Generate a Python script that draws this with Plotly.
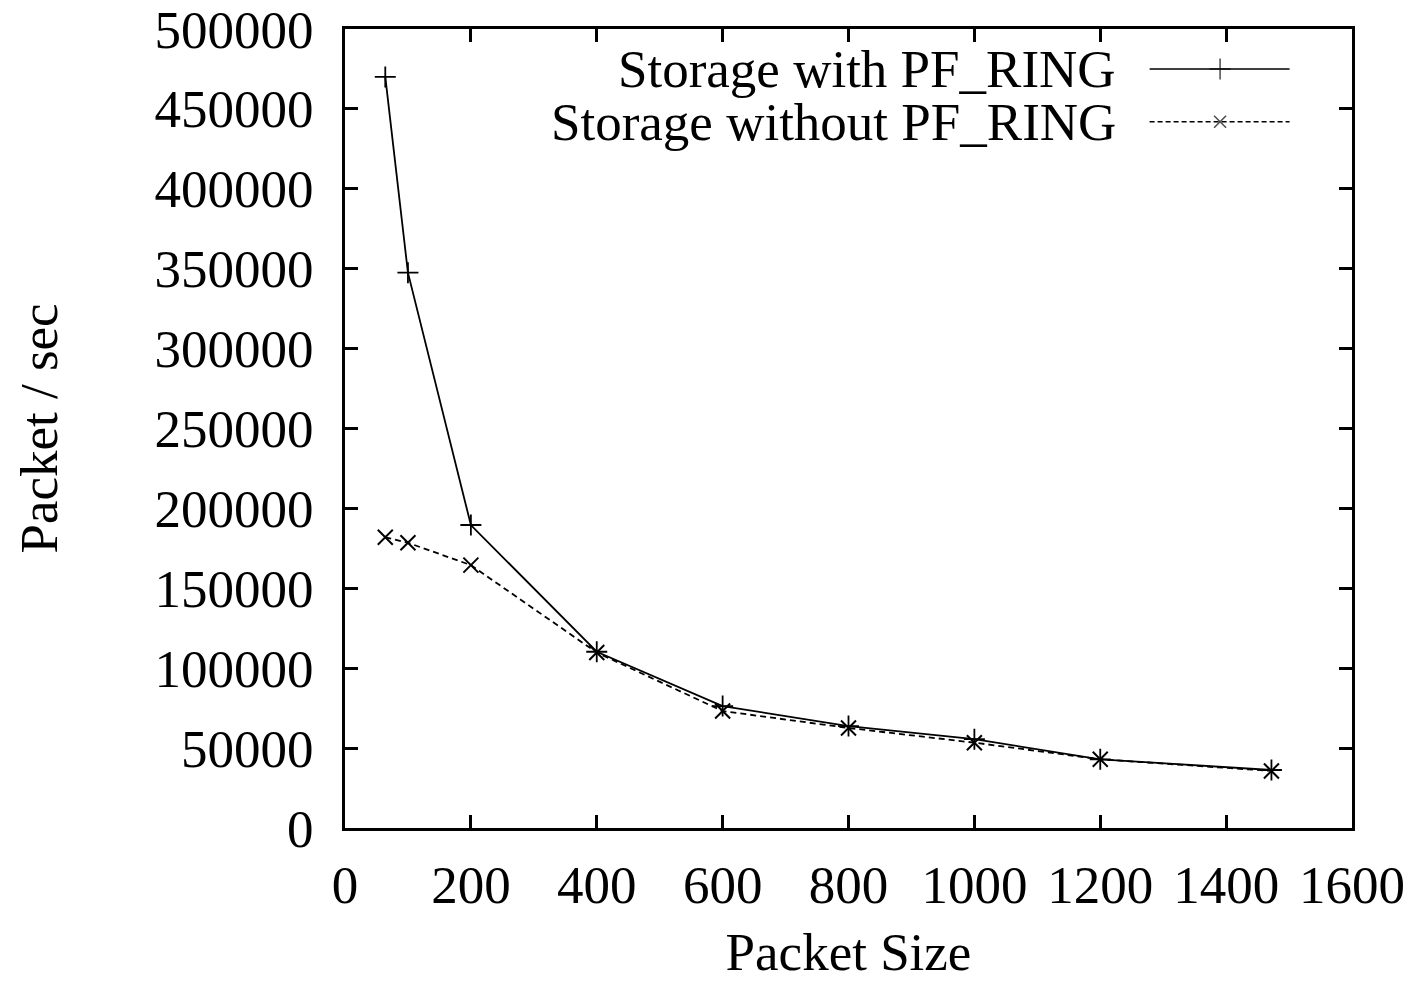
import plotly.graph_objects as go

# Packet sizes (bytes) and capture rates (packets/sec)
packet_size = [64, 100, 200, 400, 600, 800, 1000, 1200, 1472]
with_pf_ring = [470000, 347500, 189600, 110300, 76300, 63800, 55600, 43000, 36300]
without_pf_ring = [181900, 178500, 164500, 109800, 73200, 62600, 53400, 43000, 35700]

series_names = ["Storage with PF_RING", "Storage without PF_RING"]
x_ticks = [0, 200, 400, 600, 800, 1000, 1200, 1400, 1600]
y_ticks = [0, 50000, 100000, 150000, 200000, 250000, 300000, 350000, 400000, 450000, 500000]

FONT = "Liberation Serif"
FS = 53

fig = go.Figure()

fig.add_trace(go.Scatter(
    x=packet_size, y=with_pf_ring, mode="lines+markers", name=series_names[0],
    line=dict(color="black", width=1.8),
    marker=dict(symbol="cross-thin", size=15, color="black", line=dict(width=1.8, color="black")),
    showlegend=False,
))
fig.add_trace(go.Scatter(
    x=packet_size, y=without_pf_ring, mode="lines+markers", name=series_names[1],
    line=dict(color="black", width=1.8, dash="6px,4px"),
    marker=dict(symbol="x-thin", size=15, color="black", line=dict(width=2, color="black")),
    showlegend=False,
))

# Key: labels right-aligned with line samples to their right (overlay unit axes)
key_rows = [
    (series_names[0], 0.950, "solid", "cross-thin", 15),
    (series_names[1], 0.884, "5px,3px", "x-thin", 12),
]
for name, yk, dash, sym, msz in key_rows:
    fig.add_trace(go.Scatter(
        x=[0.799, 0.869, 0.938], y=[yk, yk, yk], xaxis="x2", yaxis="y2",
        mode="lines+markers", showlegend=False, hoverinfo="skip",
        line=dict(color="black", width=1.5, dash=dash),
        marker=dict(symbol=sym, size=[0, msz, 0], color="black", line=dict(width=1.5, color="black")),
    ))
    fig.add_annotation(
        x=0.768, y=yk, xref="paper", yref="paper", text=name, showarrow=False,
        xanchor="right", yanchor="middle", font=dict(family=FONT, size=FS, color="black"),
    )

axis_common = dict(
    showgrid=False, zeroline=False, showline=True, linecolor="black", linewidth=3,
    mirror="allticks", ticks="inside", ticklen=13, tickwidth=3, tickcolor="black",
    tickfont=dict(family=FONT, size=FS, color="black"), automargin=False,
)

fig.update_layout(
    width=1415, height=981,
    margin=dict(l=345, r=63, t=29, b=153),
    paper_bgcolor="white", plot_bgcolor="white",
    xaxis=dict(
        range=[0, 1600], tickvals=x_ticks, ticktext=[str(v) for v in x_ticks],
        ticklabelstandoff=8,
        title=dict(text="Packet Size", font=dict(family=FONT, size=FS, color="black"), standoff=30),
        **axis_common,
    ),
    yaxis=dict(
        range=[0, 500000], tickvals=y_ticks, ticktext=[str(v) for v in y_ticks],
        ticklabelstandoff=18,
        title=dict(text="Packet / sec", font=dict(family=FONT, size=FS, color="black"), standoff=80),
        **axis_common,
    ),
    xaxis2=dict(range=[0, 1], overlaying="x", visible=False, fixedrange=True),
    yaxis2=dict(range=[0, 1], overlaying="y", visible=False, fixedrange=True),
)

fig.write_html("out.html")
